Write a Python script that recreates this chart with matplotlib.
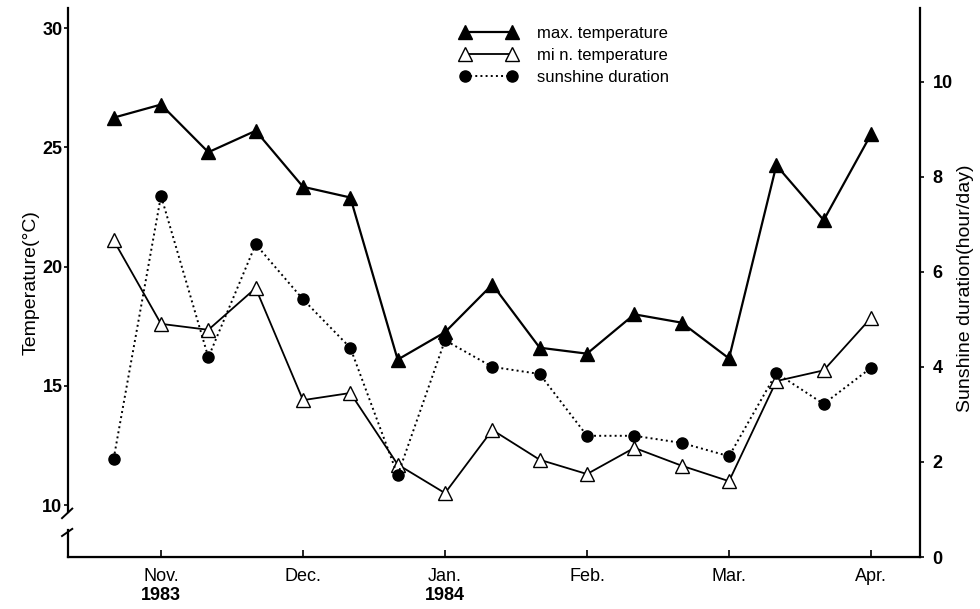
import numpy as np
import matplotlib
matplotlib.use("Agg")
import matplotlib.pyplot as plt
from matplotlib.transforms import blended_transform_factory

plt.rcParams['font.family'] = ['Liberation Sans', 'DejaVu Sans']

# ---- data (10-day periods, late Oct 1983 to early Apr 1984) ----
periods = ["Oct-III", "Nov-I", "Nov-II", "Nov-III", "Dec-I", "Dec-II", "Dec-III",
           "Jan-I", "Jan-II", "Jan-III", "Feb-I", "Feb-II", "Feb-III",
           "Mar-I", "Mar-II", "Mar-III", "Apr-I"]
max_temp = [26.25, 26.8, 24.8, 25.7, 23.35, 22.9, 16.1, 17.25, 19.25, 16.6,
            16.35, 18.0, 17.65, 16.15, 24.25, 21.95, 25.55]
min_temp = [21.1, 17.6, 17.35, 19.1, 14.4, 14.7, 11.7, 10.5, 13.15, 11.9,
            11.3, 12.4, 11.65, 11.0, 15.2, 15.65, 17.85]
sunshine = [2.07, 7.6, 4.2, 6.58, 5.42, 4.4, 1.72, 4.56, 4.0, 3.85,
            2.55, 2.55, 2.4, 2.12, 3.87, 3.22, 3.98]
month_labels = ["Nov.", "Dec.", "Jan.", "Feb.", "Mar.", "Apr."]
year_labels = ["1983", "", "1984", "", "", ""]
temp_ticks = [10, 15, 20, 25, 30]
sun_ticks = [0, 2, 4, 6, 8, 10]

# positions: thirds of a month, Nov = 0
x = (np.arange(len(periods)) - 1) / 3.0
month_pos = np.arange(len(month_labels))

fig = plt.figure(figsize=(9.8, 6.09), dpi=100)
ax = fig.add_axes([68/980, 1-557/609, (920-68)/980, (557-8)/609])
ax2 = ax.twinx()

ax.set_xlim(-0.655, 5.345)
ax.set_ylim(7.82, 30.85)
ax2.set_ylim(0.0, 11.55)

l1, = ax.plot(x, max_temp, '-', color='black', lw=1.6, marker='^', ms=10,
              mfc='black', mec='black', label='max. temperature')
l2, = ax.plot(x, min_temp, '-', color='black', lw=1.3, marker='^', ms=10,
              mfc='white', mec='black', mew=1.0, label='mi n. temperature')
l3, = ax2.plot(x, sunshine, ':', color='black', lw=1.4, marker='o', ms=8,
               mfc='black', mec='black', label='sunshine duration')

# spines
for a in (ax, ax2):
    a.spines['top'].set_visible(False)
ax.spines['right'].set_visible(False)
ax2.spines['left'].set_visible(False)
ax.spines['left'].set_bounds(9.7, 30.85)
ax.spines['left'].set_linewidth(1.6)
ax2.spines['right'].set_linewidth(1.6)
ax.spines['bottom'].set_linewidth(1.6)

# lower piece of broken left axis + break marks
tr = blended_transform_factory(ax.transAxes, ax.transData)
ax.plot([0, 0], [7.82, 8.95], color='black', lw=1.6, transform=tr, clip_on=False)
ax.plot([-0.007, 0.005], [9.45, 9.85], color='black', lw=1.4, transform=tr, clip_on=False)
ax.plot([-0.007, 0.005], [8.7, 9.0], color='black', lw=1.4, transform=tr, clip_on=False)

# ticks
ax.set_yticks(temp_ticks)
ax.set_yticklabels([str(t) for t in temp_ticks], fontsize=13, fontweight='bold')
ax.tick_params(axis='y', direction='out', length=3, width=1.2, pad=1)
ax2.set_yticks(sun_ticks)
ax2.set_yticklabels([str(t) for t in sun_ticks], fontsize=13, fontweight='bold')
ax2.tick_params(axis='y', direction='out', length=3, width=1.2, pad=6)

ax.set_xticks(month_pos)
ax.set_xticklabels(month_labels, fontsize=13)
ax.tick_params(axis='x', direction='in', length=5, width=1.2, pad=8)
xtr = blended_transform_factory(ax.transData, ax.transAxes)
for xp, yl in zip(month_pos, year_labels):
    if yl:
        ax.text(xp, -0.071, yl, transform=xtr, ha='center', va='center',
                fontsize=13, fontweight='bold')

ax.set_ylabel('Temperature(°C)', fontsize=14, labelpad=2)
ax2.set_ylabel('Sunshine duration(hour/day)', fontsize=14, labelpad=4)
ax2.yaxis.set_label_coords(1.044, 0.49)

leg = ax2.legend(handles=[l1, l2, l3], loc='upper left',
                 bbox_to_anchor=(460/980, 1-26/609), bbox_transform=fig.transFigure,
                 frameon=False, numpoints=2, fontsize=12, handlelength=3.4,
                 handletextpad=1.2, labelspacing=0.42, borderpad=0, borderaxespad=0)

fig.savefig('out.png', dpi=100)
